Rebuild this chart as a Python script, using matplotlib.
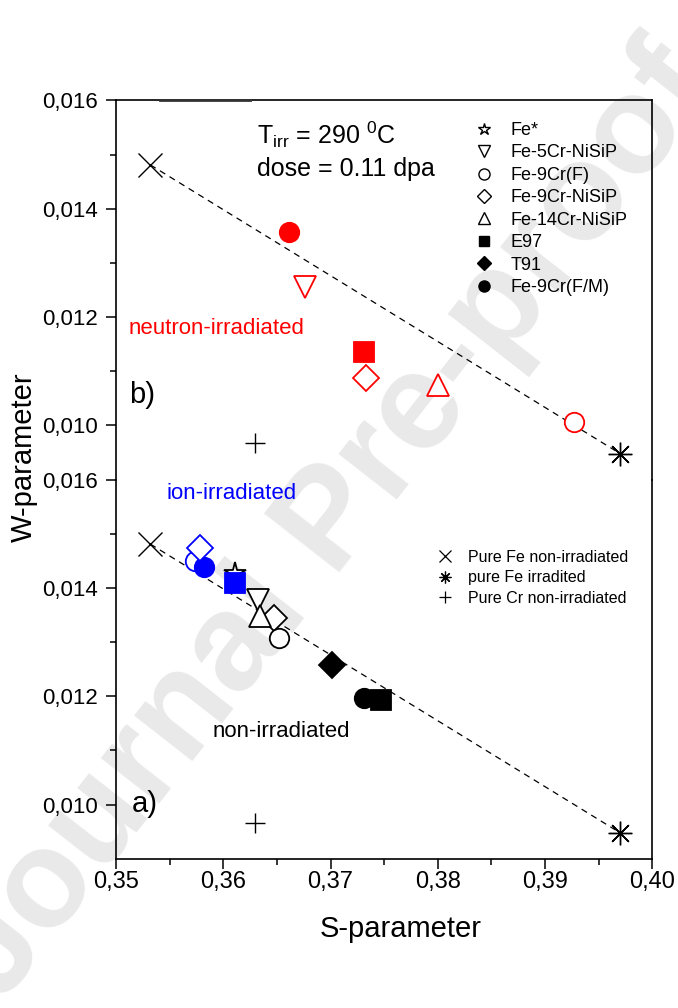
import numpy as np
import matplotlib.pyplot as plt
from matplotlib.lines import Line2D
from matplotlib.ticker import MultipleLocator, FuncFormatter

plt.rcParams['font.family'] = ['Liberation Sans', 'DejaVu Sans']
plt.rcParams['mathtext.fontset'] = 'custom'
plt.rcParams['mathtext.rm'] = 'Liberation Sans'
plt.rcParams['mathtext.it'] = 'Liberation Sans:italic'

# samples, same order as the legend
samples = ['Fe*', 'Fe-5Cr-NiSiP', 'Fe-9Cr(F)', 'Fe-9Cr-NiSiP', 'Fe-14Cr-NiSiP', 'E97', 'T91', 'Fe-9Cr(F/M)']
sample_markers = ['*', 'v', 'o', 'D', '^', 's', 'D', 'o']
sample_filled = [False, False, False, False, False, True, True, True]

# b) neutron-irradiated (red)
neutron_S = [np.nan, 0.3676, 0.3927, 0.3733, 0.3800, 0.3731, np.nan, 0.3661]
neutron_W = [np.nan, 0.01255, 0.01007, 0.01088, 0.01075, 0.01135, np.nan, 0.01357]

# a) ion-irradiated (blue)
ion_S = [np.nan, np.nan, 0.3574, 0.3578, np.nan, 0.3611, np.nan, 0.3582]
ion_W = [np.nan, np.nan, 0.01449, 0.01474, np.nan, 0.01410, np.nan, 0.01438]

# a) non-irradiated (black)
nonirr_S = [0.3611, 0.3632, 0.3652, 0.3647, 0.3634, 0.3747, 0.3701, 0.3731]
nonirr_W = [0.01428, 0.01378, 0.01308, 0.01345, 0.01348, 0.01194, 0.01258, 0.01197]

# reference materials (both panels)
ref_labels = ['Pure Fe non-irradiated', 'pure Fe irradited', 'Pure Cr non-irradiated']
ref_markers = ['x', (8, 2, 0), '+']
ref_S = [0.3532, 0.3970, 0.3630]
ref_W = [0.01481, 0.00948, 0.00967]

msize = {'o': 14, 's': 14, 'D': 13, 'v': 16, '^': 16, '*': 16}
lsize = {'o': 8, 's': 7.5, 'D': 7, 'v': 8.5, '^': 8.5, '*': 9}


def comma(v, nd):
    return ('{:.%df}' % nd).format(v).replace('.', ',')


def draw_set(ax, S, W, color, order):
    for i in order:
        if np.isnan(S[i]):
            continue
        m = sample_markers[i]
        ax.plot(S[i], W[i], ls='none', marker=m, ms=msize[m], mec=color,
                mfc=color if sample_filled[i] else 'white', mew=1.3, zorder=4)


def draw_refs(ax):
    ax.plot([ref_S[0], ref_S[1]], [ref_W[0], ref_W[1]], ls=(0, (5, 4)), lw=0.9,
            color='black', zorder=2)
    sizes = [17, 17, 14]
    for i in range(3):
        ax.plot(ref_S[i], ref_W[i], ls='none', marker=ref_markers[i], ms=sizes[i],
                color='black', mew=1.0, zorder=3)


def style_axis(ax):
    ax.set_xlim(0.35, 0.40)
    ax.set_ylim(0.009, 0.016)
    ax.set_facecolor('none')
    ax.yaxis.set_major_locator(MultipleLocator(0.002))
    ax.yaxis.set_minor_locator(plt.FixedLocator([0.011, 0.013, 0.015]))
    ax.yaxis.set_major_formatter(FuncFormatter(lambda v, p: comma(v, 3)))
    ax.xaxis.set_major_locator(MultipleLocator(0.01))
    ax.xaxis.set_minor_locator(MultipleLocator(0.005))
    ax.xaxis.set_major_formatter(FuncFormatter(lambda v, p: comma(v, 2)))
    ax.tick_params(which='both', direction='out', width=1.1, right=False, top=False)
    ax.tick_params(which='major', length=7.5)
    ax.tick_params(which='minor', length=4.3)
    ax.tick_params(axis='y', labelsize=16, pad=5.5)
    ax.tick_params(axis='x', labelsize=17, pad=1)
    for s in ax.spines.values():
        s.set_linewidth(1.2)


fig = plt.figure(figsize=(6.78, 10.08), dpi=100)
fig.patch.set_facecolor('white')
fig.text(0.49, 0.48, 'Journal Pre-proof', rotation=52, fontsize=100, fontweight='bold',
         color='#e9e9e9', ha='center', va='center', zorder=-1)

axb = fig.add_axes([0.1711, 0.5242, 0.7910, 0.3762])
axa = fig.add_axes([0.1711, 0.1480, 0.7910, 0.3762])

# panel b (top)
style_axis(axb)
axb.spines['bottom'].set_visible(False)
axb.tick_params(axis='x', which='both', bottom=False, labelbottom=False)
draw_refs(axb)
draw_set(axb, neutron_S, neutron_W, 'red', [1, 2, 3, 4, 5, 7])

axb.text(0.263, 0.8866, r'T$_{\rm irr}$ = 290 $^{\rm 0}$C', transform=axb.transAxes,
         fontsize=18, va='baseline')
axb.text(0.263, 0.7996, 'dose = 0.11 dpa', transform=axb.transAxes, fontsize=18, va='baseline')
axb.text(0.024, 0.383, 'neutron-irradiated', transform=axb.transAxes, fontsize=16,
         color='red', va='baseline')
axb.text(0.024, 0.201, 'b)', transform=axb.transAxes, fontsize=21, va='baseline')

handles = []
for m, f in zip(sample_markers, sample_filled):
    handles.append(Line2D([], [], ls='none', marker=m, ms=lsize[m], mec='black',
                          mfc='black' if f else 'white', mew=1.0))
axb.legend(handles, samples, loc='upper left', bbox_to_anchor=(0.669, 0.943),
           frameon=False, fontsize=13, handlelength=1.0, handletextpad=1.0,
           labelspacing=0.3, borderpad=0, borderaxespad=0)

# panel a (bottom)
style_axis(axa)
axa.spines['top'].set_visible(False)
draw_refs(axa)
draw_set(axa, nonirr_S, nonirr_W, 'black', [0, 3, 1, 4, 2, 6, 7, 5])
draw_set(axa, ion_S, ion_W, 'blue', [2, 7, 3, 5])

axa.text(0.095, 0.9488, 'ion-irradiated', transform=axa.transAxes, fontsize=16,
         color='blue', va='baseline')
axa.text(0.1796, 0.322, 'non-irradiated', transform=axa.transAxes, fontsize=16,
         va='baseline')
axa.text(0.030, 0.1242, 'a)', transform=axa.transAxes, fontsize=21, va='baseline')

ref_handles = []
for m in ref_markers:
    ref_handles.append(Line2D([], [], ls='none', marker=m, ms=8.5, color='black', mew=0.9))
axa.legend(ref_handles, ref_labels, loc='upper left', bbox_to_anchor=(0.5986, 0.815),
           frameon=False, fontsize=11.5, handlelength=1.0, handletextpad=0.94,
           labelspacing=0.34, borderpad=0, borderaxespad=0)

axa.set_xlabel('S-parameter', fontsize=21)
axa.xaxis.label.set_va('baseline')
axa.xaxis.set_label_coords(0.531, -0.2068)
fig.text(0.0354, 0.5466, 'W-parameter', rotation=90, fontsize=21, ha='center', va='center')

# thicker stub on the top frame, as in the scanned figure
fig.add_artist(Line2D([160 / 678, 250 / 678], [0.9008, 0.9008], lw=2.0, color='#333333'))

fig.savefig('out.png', dpi=100)
